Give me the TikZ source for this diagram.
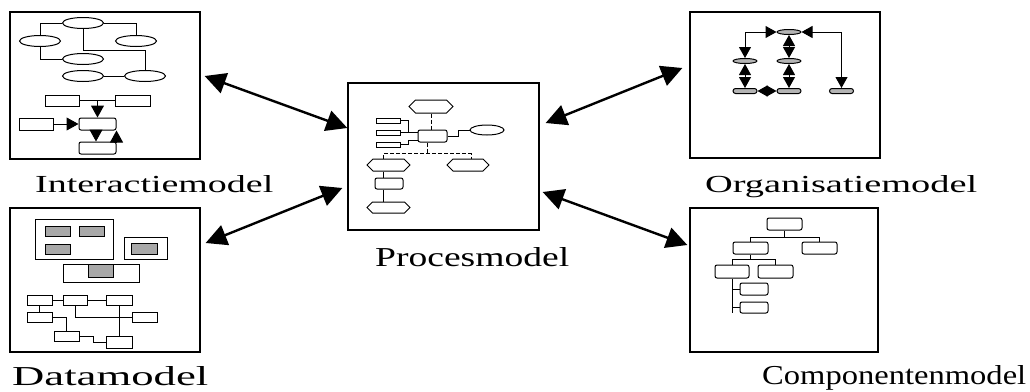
\documentclass[tikz,border=0pt]{standalone}
\usepackage{fontspec}
\setmainfont{Liberation Serif}
\usepackage{graphicx}
\usetikzlibrary{arrows.meta,shapes.geometric,shapes.symbols,calc}
\definecolor{gfill}{HTML}{A8A8A8}
\definecolor{ofill}{HTML}{B4B4B4}
\tikzset{
  mbox/.style={draw, line width=1.3pt, inner sep=0pt},
  ell/.style={ellipse, draw, line width=1pt, inner sep=0pt, minimum width=41pt, minimum height=11pt},
  rb/.style={rectangle, draw, line width=1pt, inner sep=0pt},
  rrb/.style={rb, rounded corners=2pt},
  gb/.style={rb, fill=gfill},
  hexa/.style={signal, signal to=east and west, draw, line width=1pt, inner sep=0pt},
  oel/.style={ellipse, draw, fill=ofill, line width=1pt, inner sep=0pt, minimum width=24pt, minimum height=5pt},
  obar/.style={rectangle, rounded corners=2.5pt, draw, fill=ofill, line width=1pt, inner sep=0pt, minimum width=24pt, minimum height=5pt},
  thin/.style={line width=1pt},
  sh/.tip={Triangle[length=12pt,width=13pt]},
  oh/.tip={Triangle[length=11pt,width=12pt]},
  bigarr/.style={line width=2.4pt, {Triangle[length=21pt,width=21pt]}-{Triangle[length=21pt,width=21pt]}},
  dsh/.style={thin, dash pattern=on 4pt off 2pt},
  lbl/.style={anchor=base west, inner sep=0pt}
}
\begin{document}
\begin{tikzpicture}[x=1pt,y=-1pt]
\useasboundingbox (0,0) rectangle (1030,391);
% main boxes
\node[mbox, minimum width=190pt, minimum height=147pt] (inter) at (105,85.5) {};
\node[mbox, minimum width=190pt, minimum height=144pt] (data) at (105,280) {};
\node[mbox, minimum width=191pt, minimum height=147pt] (proc) at (443.5,156.5) {};
\node[mbox, minimum width=190pt, minimum height=146pt] (org) at (785,85) {};
\node[mbox, minimum width=188pt, minimum height=144pt] (comp) at (784,280) {};
% labels
\node[lbl] (tinter) at (35,192) {\resizebox{238pt}{17pt}{Interactiemodel}};
\node[lbl] (torg) at (705,192) {\resizebox{272pt}{17pt}{Organisatiemodel}};
\node[lbl] (tproc) at (375,266) {\resizebox{194pt}{19pt}{Procesmodel}};
\node[lbl] (tdata) at (12,385) {\resizebox{196pt}{19pt}{Datamodel}};
\node[lbl] (tcomp) at (762,384) {\resizebox{264pt}{19pt}{Componentenmodel}};
% big arrows
\coordinate (a1) at ([xshift=4pt,yshift=9.5pt]inter.east);
\coordinate (a2) at ([yshift=28.5pt]proc.west);
\coordinate (b1) at ([xshift=5pt,yshift=37pt]data.east);
\coordinate (b2) at ([xshift=-5pt,yshift=-31.5pt]proc.west);
\coordinate (c1) at ([xshift=6pt,yshift=33.5pt]proc.east);
\coordinate (c2) at ([xshift=-7pt,yshift=17pt]org.west);
\coordinate (d1) at ([xshift=3pt,yshift=-35.5pt]proc.east);
\coordinate (d2) at ([xshift=-2pt,yshift=35pt]comp.west);
\draw[bigarr] (a1) -- (a2);
\draw[bigarr] (b1) -- (b2);
\draw[bigarr] (c1) -- (c2);
\draw[bigarr] (d1) -- (d2);
% ---- Interactiemodel contents
\node[ell] (e1) at (83,23) {};
\node[ell] (e2) at (40,41) {};
\node[ell] (e3) at (136,41) {};
\node[ell] (e4) at (83,59) {};
\node[ell] (e5) at (83,76) {};
\node[ell] (e6) at (145,76) {};
\draw[thin] (e1.west) -| (e2.north);
\draw[thin] (e1.east) -| (e3.north);
\draw[thin] (e2.south) |- (e4.west);
\draw[thin] (e1.south) -- ++(0,21.5) -| (e6.north);
\draw[thin] (e5) -- (e6);
\node[rb, minimum width=34pt, minimum height=11pt] (r1) at (62,100.5) {};
\node[rb, minimum width=35pt, minimum height=11pt] (r2) at (132.5,100.5) {};
\node[rb, minimum width=34pt, minimum height=12pt] (r3) at (36,124) {};
\node[rrb, minimum width=37pt, minimum height=12pt] (r4) at (97.5,124) {};
\node[rrb, minimum width=37pt, minimum height=12pt] (r5) at (97.5,148) {};
\draw[thin] (r1) -- (r2);
\draw[thin, -{sh}] (r4.north |- r1.east) -- (r4.north);
\draw[thin, -{sh}] (r3) -- (r4);
\draw[thin, -{sh}] ([xshift=-1.5pt]r4.south) -- ([xshift=-1.5pt]r5.north);
\draw[thin, -{sh}] (r5.north east) -- (r4.south east);
% ---- Datamodel contents
\node[rb, minimum width=78pt, minimum height=40pt] (g1) at (74,239) {};
\node[gb, minimum width=25pt, minimum height=10pt] (g1a) at (57.5,231) {};
\node[gb, minimum width=25pt, minimum height=10pt] (g1b) at (91.5,231) {};
\node[gb, minimum width=25pt, minimum height=10pt] (g1c) at (57.5,249) {};
\node[rb, minimum width=43pt, minimum height=22pt] (g2) at (145.5,248) {};
\node[gb, minimum width=26pt, minimum height=11pt] (g2a) at (144,248.5) {};
\node[rb, minimum width=76pt, minimum height=18pt] (g3) at (101,273) {};
\node[gb, minimum width=25pt, minimum height=13pt] (g3a) at (100.5,270.5) {};
\node[rb, minimum width=25pt, minimum height=10pt] (bb1) at (39.5,300) {};
\node[rb, minimum width=24pt, minimum height=10pt] (bb2) at (75,300) {};
\node[rb, minimum width=26pt, minimum height=10pt] (bb3) at (119,300) {};
\node[rb, minimum width=25pt, minimum height=10pt] (bb4) at (39.5,317) {};
\node[rb, minimum width=25pt, minimum height=10pt] (bb5) at (144.5,317) {};
\node[rb, minimum width=25pt, minimum height=10pt] (bb6) at (66.5,336) {};
\node[rb, minimum width=26pt, minimum height=12pt] (bb7) at (119,342) {};
\draw[thin] (bb1) -- (bb2);
\draw[thin] (bb2) -- (bb3);
\draw[thin] (bb1) -- (bb4);
\draw[thin] (bb2.south) |- (bb5.west);
\draw[thin] (bb3.south) -- (bb7.north);
\draw[thin] (bb4.east) -| (bb6.north);
\draw[thin] (bb6.east) -- ++(14,0) |- (bb7.west);
% ---- Procesmodel contents
\node[hexa, minimum width=44pt, minimum height=13pt] (h1) at (431,106.5) {};
\node[rb, minimum width=24pt, minimum height=5pt] (l1) at (388,120.5) {};
\node[rb, minimum width=24pt, minimum height=5pt] (l2) at (388,132.5) {};
\node[rb, minimum width=24pt, minimum height=5pt] (l3) at (388,144.5) {};
\node[rrb, minimum width=29pt, minimum height=12pt] (pc) at (432.5,136) {};
\node[ell, minimum width=34pt, minimum height=10pt] (pe) at (487,130) {};
\node[hexa, minimum width=43pt, minimum height=12pt] (h2) at (388.5,165) {};
\node[hexa, minimum width=42pt, minimum height=12pt] (h3) at (468,165) {};
\node[rrb, minimum width=28pt, minimum height=11pt] (pr2) at (389,183.5) {};
\node[hexa, minimum width=43pt, minimum height=11pt] (h4) at (388.5,207.5) {};
\draw[dsh] (h1.south) -- (h1.south |- pc.north);
\draw[thin] (l1.east) -- ++(8,0) |- ([yshift=4pt]pc.west);
\draw[thin] (l2.east) -- (l2.east -| pc.west);
\draw[thin] (l3.east) -- ++(8,0) |- ([yshift=-4pt]pc.west);
\draw[thin] (pc.east) -- ++(11,0) |- (pe.west);
\draw[dsh] ([xshift=-5pt]pc.south) -- ++(0,11) coordinate (dj);
\draw[dsh] ([xshift=-5.5pt]h2.north) |- (dj) -| ([xshift=3pt]h3.north);
\draw[thin] ([xshift=-5.5pt]h2.south) -- ([xshift=-6pt]pr2.north);
\draw[thin] ([xshift=-6pt]pr2.south) -- ([xshift=-5.5pt]h4.north);
% ---- Organisatiemodel contents
\node[oel] (o1) at (789,32) {};
\node[oel] (o2) at (745,61) {};
\node[oel] (o3) at (789,61) {};
\node[obar] (o4) at (745,91) {};
\node[obar] (o5) at (789,91) {};
\node[obar] (o6) at (841.5,91) {};
\draw[thin, {oh}-{oh}] (o2.north) |- (o1.west);
\draw[thin, {oh}-{oh}] (o6.north) |- (o1.east);
\draw[thin, {oh}-{oh}] (o1.south) -- (o3.north);
\draw[thin, {oh}-{oh}] (o3.south) -- (o5.north);
\draw[thin, {oh}-{oh}] (o2.south) -- (o4.north);
\draw[thin, {Triangle[length=10pt,width=11pt]}-{Triangle[length=10pt,width=11pt]}] (o4.east) -- (o5.west);
% ---- Componentenmodel contents
\node[rrb, minimum width=35pt, minimum height=12pt] (k1) at (784.5,224) {};
\node[rrb, minimum width=35pt, minimum height=12pt] (k2) at (750.5,248) {};
\node[rrb, minimum width=35pt, minimum height=12pt] (k3) at (819.5,248) {};
\node[rrb, minimum width=34pt, minimum height=13pt] (k4) at (732,271.5) {};
\node[rrb, minimum width=35pt, minimum height=13pt] (k5) at (775.5,271.5) {};
\node[rrb, minimum width=28pt, minimum height=12pt] (k6) at (754,289) {};
\node[rrb, minimum width=28pt, minimum height=11pt] (k7) at (754,307.5) {};
\coordinate (kj1) at ($(k1.south)+(0,7)$);
\coordinate (kj2) at ($(k2.south)+(0,5)$);
\draw[thin] (k1.south) -- (kj1);
\draw[thin] (k2.north) |- (kj1) -| (k3.north);
\draw[thin] (k2.south) -- (kj2);
\draw[thin] (k4.north) |- (kj2) -| (k5.north);
\draw[thin] (k4.south) -- ++(0,34);
\draw[thin] (k6.west) -- (k6.west -| k4.south);
\draw[thin] (k7.west) -- (k7.west -| k4.south);
\end{tikzpicture}
\end{document}
